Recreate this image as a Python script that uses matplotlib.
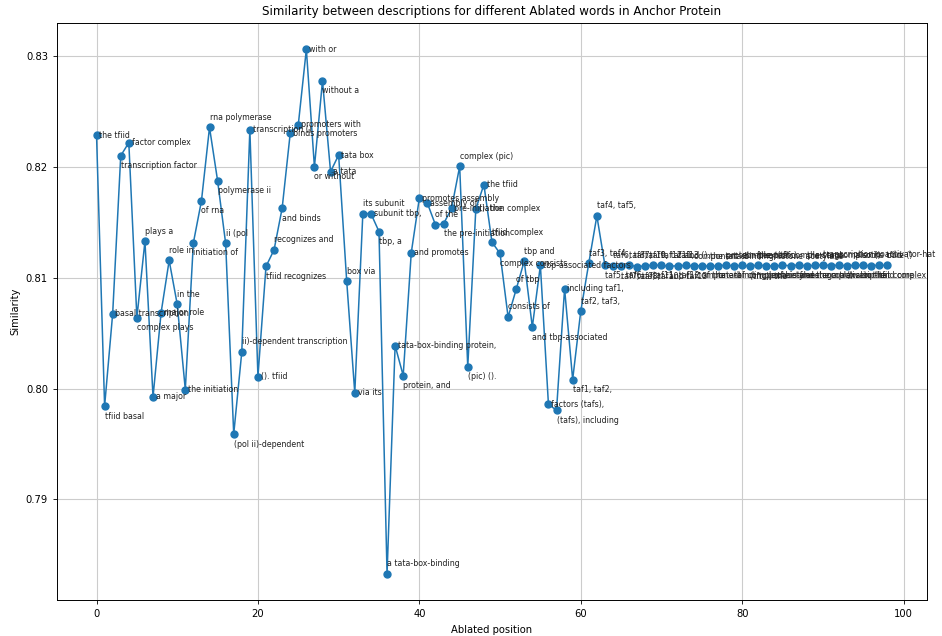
#!/usr/bin/env python3

"""similarity of descriptions when one word pair of the anchor protein is ablated"""

import matplotlib
matplotlib.use("Agg")
import matplotlib.pyplot as plt

# ablated word pairs (sliding window over the anchor description)
words = [
    "the tfiid", "tfiid basal", "basal transcription", "transcription factor",
    "factor complex", "complex plays", "plays a", "a major", "major role",
    "role in", "in the", "the initiation", "initiation of", "of rna",
    "rna polymerase", "polymerase ii", "ii (pol", "(pol ii)-dependent",
    "ii)-dependent transcription", "transcription ().", "(). tfiid",
    "tfiid recognizes", "recognizes and", "and binds", "binds promoters",
    "promoters with", "with or", "or without", "without a", "a tata",
    "tata box", "box via", "via its", "its subunit", "subunit tbp,", "tbp, a",
    "a tata-box-binding", "tata-box-binding protein,", "protein, and",
    "and promotes", "promotes assembly", "assembly of", "of the",
    "the pre-initiation", "pre-initiation complex", "complex (pic)",
    "(pic) ().", "(). the", "the tfiid", "tfiid complex", "complex consists",
    "consists of", "of tbp", "tbp and", "and tbp-associated",
    "tbp-associated factors", "factors (tafs),", "(tafs), including",
    "including taf1,", "taf1, taf2,", "taf2, taf3,", "taf3, taf4,",
    "taf4, taf5,", "taf5, taf6,", "taf6, taf7,", "taf7, taf8,", "taf8, taf9,",
    "taf9, taf10,", "taf10, taf11,", "taf11, taf12", "taf12 and", "and taf13",
    "taf13 ().", "(). component", "component of", "of the", "the tata-binding",
    "tata-binding protein-free", "protein-free taf", "taf complex",
    "complex (tftc),", "(tftc), the", "the pcaf", "pcaf histone",
    "histone acetylase", "acetylase complex", "complex and", "and the",
    "the staga", "staga transcription", "transcription coactivator-hat",
    "coactivator-hat complex", "complex ()", "() also", "also in",
    "in the", "the tfiid", "tfiid core", "core ()",
]

similarity = [
    0.82286, 0.79841, 0.80675, 0.82100, 0.82217, 0.80639, 0.81329, 0.79924,
    0.80684, 0.81155, 0.80759, 0.79991, 0.81314, 0.81692, 0.82355, 0.81875,
    0.81308, 0.79589, 0.80330, 0.82334, 0.80108, 0.81101, 0.81251, 0.81626,
    0.82301, 0.82379, 0.83060, 0.81999, 0.82775, 0.81956, 0.82106, 0.80969,
    0.79961, 0.81578, 0.81578, 0.81416, 0.78329, 0.80387, 0.80117, 0.81224,
    0.81716, 0.81671, 0.81476, 0.81485, 0.81626, 0.82004, 0.80195, 0.81620,
    0.81839, 0.81320, 0.81218, 0.80645, 0.80894, 0.81149, 0.80555, 0.81110,
    0.79856, 0.79805, 0.80900, 0.80081, 0.80696, 0.81131, 0.81557, 0.81110,
    0.81108, 0.81105, 0.81112, 0.81100, 0.81106, 0.81114, 0.81110, 0.81103,
    0.81107, 0.81111, 0.81104, 0.81109, 0.81102, 0.81108, 0.81112, 0.81106,
    0.81110, 0.81105, 0.81113, 0.81107, 0.81104, 0.81111, 0.81108, 0.81114,
    0.81106, 0.81110, 0.81115, 0.81109, 0.81112, 0.81107, 0.81113, 0.81110,
    0.81108, 0.81112, 0.81110,
]

# label placement: r = right, a = above, b = below
PLACE = (
    "rbrbrbarra" "arbbababar" "rbabrrrbbr" "rararbarbr" "rrabrabrra"
    "baaabrrbrb" "aaa" + "ba" * 18
)
OFFSETS = {"r": ((2, 0), "center"), "a": ((0, 4), "bottom"), "b": ((0, -4), "top")}


def main() -> None:
    """Main function"""
    fig, ax = plt.subplots(figsize=(9.42, 6.36), dpi=100)
    fig.subplots_adjust(left=0.0605, right=0.984, bottom=0.0566, top=0.9638)

    positions = list(range(len(similarity)))
    ax.plot(positions, similarity, marker="o", markersize=5, linewidth=1.1, color="C0")

    for n, (word, sim) in enumerate(zip(words, similarity)):
        offset, va = OFFSETS[PLACE[n]]
        ax.annotate(
            word, (n, sim), xytext=offset, textcoords="offset points",
            ha="left", va=va, fontsize=5.7, color="#222222",
        )

    ax.set_title(
        "Similarity between descriptions for different Ablated words in Anchor Protein",
        fontsize=8.6,
    )
    ax.set_xlabel("Ablated position", fontsize=7.2)
    ax.set_ylabel("Similarity", fontsize=7.2)
    ax.tick_params(labelsize=7.2, width=0.6, length=3)
    ax.set_yticks([0.79, 0.80, 0.81, 0.82, 0.83])
    ax.grid(True, color="#cccccc", linewidth=0.8)
    for spine in ax.spines.values():
        spine.set_linewidth(0.7)

    fig.savefig("out.png")


if __name__ == "__main__":
    main()
